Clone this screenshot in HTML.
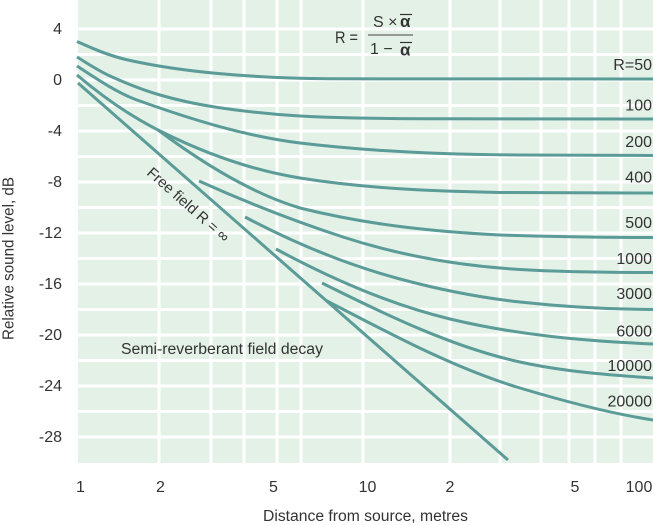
<!DOCTYPE html>
<html><head><meta charset="utf-8"><style>
html,body{margin:0;padding:0;background:#fff;}
svg{display:block;}
text{font-family:"Liberation Sans",sans-serif;fill:#333;}
</style></head><body>
<svg width="653" height="525" viewBox="0 0 653 525" xmlns="http://www.w3.org/2000/svg">
<rect x="78" y="0" width="575" height="463" fill="#e4f1e7"/>
<g stroke="#fff" stroke-width="3">
<line x1="159" y1="0" x2="159" y2="463"/>
<line x1="211" y1="0" x2="211" y2="463"/>
<line x1="244" y1="0" x2="244" y2="463"/>
<line x1="277" y1="0" x2="277" y2="463"/>
<line x1="301" y1="0" x2="301" y2="463"/>
<line x1="363" y1="0" x2="363" y2="463"/>
<line x1="450" y1="0" x2="450" y2="463"/>
<line x1="500" y1="0" x2="500" y2="463"/>
<line x1="541" y1="0" x2="541" y2="463"/>
<line x1="569" y1="0" x2="569" y2="463"/>
<line x1="595" y1="0" x2="595" y2="463"/>
<line x1="621" y1="0" x2="621" y2="463"/>
<line x1="78" y1="29" x2="653" y2="29"/>
<line x1="78" y1="54.5" x2="653" y2="54.5"/>
<line x1="78" y1="80" x2="653" y2="80"/>
<line x1="78" y1="105.5" x2="653" y2="105.5"/>
<line x1="78" y1="131" x2="653" y2="131"/>
<line x1="78" y1="156.5" x2="653" y2="156.5"/>
<line x1="78" y1="182" x2="653" y2="182"/>
<line x1="78" y1="207.5" x2="653" y2="207.5"/>
<line x1="78" y1="233" x2="653" y2="233"/>
<line x1="78" y1="258.5" x2="653" y2="258.5"/>
<line x1="78" y1="284" x2="653" y2="284"/>
<line x1="78" y1="309.5" x2="653" y2="309.5"/>
<line x1="78" y1="335" x2="653" y2="335"/>
<line x1="78" y1="360.5" x2="653" y2="360.5"/>
<line x1="78" y1="386" x2="653" y2="386"/>
<line x1="78" y1="411.5" x2="653" y2="411.5"/>
<line x1="78" y1="437" x2="653" y2="437"/>
</g>
<g fill="none" stroke="#5b9b98" stroke-width="3">
<!-- R=50 -->
<path d="M77,41.5 C85.5,45.2 104.5,54.7 128,60 C151.5,65.3 184.3,70.4 218,73.5 C251.7,76.6 290,78.3 330,78.8 L653,79"/>
<!-- R=100 -->
<path d="M77,57 C82.5,60.2 96.2,69.7 110,76 C123.8,82.3 142,89.75 160,95 C178,100.25 194.7,104 218,107.5 C241.3,111 266.3,114.1 300,116 C333.7,117.9 361.2,118.2 420,118.7 L653,119"/>
<!-- R=200 -->
<path d="M77,66 C97,79 117,92.8 137,100 C191,119.4 246,136.4 300,143 C373,151.8 447,154.6 520,155 L653,155.5"/>
<!-- R=400 -->
<path d="M77,75 C105,98.8 132,117 160,131 C207,154.5 253,170.5 300,178 C367,188.7 433,191.2 500,192.5 L653,193"/>
<!-- R=500 -->
<path d="M158,130 C205,165 253,194 300,208 C367,224.7 433,231.7 500,235 C551,236.7 602,237.5 653,237.5"/>
<!-- R=1000 -->
<path d="M199,181 C247,202.6 295,221.4 343,237 C402,256.2 461,266 520,269.5 C564,272.1 609,272.5 653,272.5"/>
<!-- R=3000 -->
<path d="M245,217 C297,244.6 348,265 400,279 C440,289.8 480,297.6 520,302 C564,306.8 609,309.3 653,309.5"/>
<!-- R=6000 -->
<path d="M276,249 C334,280.3 392,305 450,319 C518,335.3 585,341 653,344"/>
<!-- R=10000 -->
<path d="M322,283 C388,316 454,347.5 520,362 C564,371.7 609,375 653,378"/>
<!-- R=20000 -->
<path d="M326,300.4 C391,334.2 455,368.6 520,388 C564,401.2 609,413.3 653,420"/>
<!-- free field -->
<path d="M78,83 L508,460"/>
</g>
<!-- y ticks -->
<g font-size="16" text-anchor="end">
<text x="62" y="34">4</text>
<text x="62" y="85">0</text>
<text x="62" y="136">-4</text>
<text x="62" y="187">-8</text>
<text x="62" y="238">-12</text>
<text x="62" y="289">-16</text>
<text x="62" y="340">-20</text>
<text x="62" y="391">-24</text>
<text x="62" y="442">-28</text>
</g>
<!-- x ticks -->
<g font-size="16" text-anchor="middle">
<text x="80.5" y="492">1</text>
<text x="160.5" y="492">2</text>
<text x="273.5" y="492">5</text>
<text x="367.5" y="492">10</text>
<text x="450" y="492">2</text>
<text x="575" y="492">5</text>
<text x="639" y="492">100</text>
</g>
<!-- right labels -->
<g font-size="16" text-anchor="end">
<text x="652" y="70">R=50</text>
<text x="652" y="110.5">100</text>
<text x="652" y="147">200</text>
<text x="652" y="182.5">400</text>
<text x="652" y="228">500</text>
<text x="652" y="264">1000</text>
<text x="652" y="299">3000</text>
<text x="652" y="336.5">6000</text>
<text x="652" y="371">10000</text>
<text x="652" y="406.5">20000</text>
</g>
<!-- titles -->
<text x="263" y="521" font-size="15.5" textLength="205" lengthAdjust="spacingAndGlyphs">Distance from source, metres</text>
<text transform="translate(13.5,340) rotate(-90)" font-size="15.5" textLength="163" lengthAdjust="spacingAndGlyphs">Relative sound level, dB</text>
<text x="121" y="354" font-size="15.5" textLength="202" lengthAdjust="spacingAndGlyphs">Semi-reverberant field decay</text>
<text transform="translate(146,174) rotate(41.5)" font-size="15" textLength="104" lengthAdjust="spacingAndGlyphs">Free field R = ∞</text>
<!-- formula -->
<text x="335" y="43" font-size="17" textLength="23" lengthAdjust="spacingAndGlyphs">R =</text>
<text x="373" y="27" font-size="16">S ×</text>
<text x="400" y="27" font-size="17" font-family="Liberation Serif, serif" font-weight="bold">α</text>
<line x1="400" y1="14.5" x2="412" y2="14.5" stroke="#333" stroke-width="1.2"/>
<line x1="368" y1="35" x2="413" y2="35" stroke="#444" stroke-width="1"/>
<text x="370" y="54" font-size="16">1 −</text>
<text x="400" y="55.5" font-size="17" font-family="Liberation Serif, serif" font-weight="bold">α</text>
<line x1="400" y1="42.5" x2="412" y2="42.5" stroke="#333" stroke-width="1.2"/>
</svg>
</body></html>
